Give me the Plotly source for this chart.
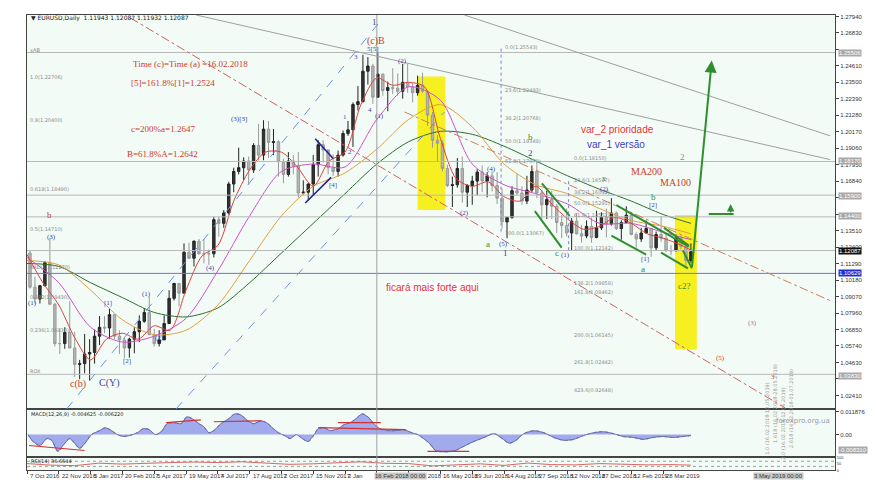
import plotly.graph_objects as go

# ---------------- DATA (weekly aggregation of the daily bars) -------------
wk_first_open = 1.1235
wk_high = [1.1250, 1.1215, 1.1040, 1.0985, 1.1145, 1.1300, 1.0865, 1.0690, 1.0700, 1.0875, 1.0670, 1.0480, 1.0655,
           1.0620, 1.0685, 1.0775, 1.0775, 1.0830, 1.0790, 1.0680, 1.0630, 1.0630, 1.0700, 1.0780, 1.0830, 1.0905,
           1.0690, 1.0680, 1.0780, 1.0950, 1.1000, 1.0990, 1.1265, 1.1270, 1.1285, 1.1295, 1.1295, 1.1225, 1.1445,
           1.1445, 1.1490, 1.1680, 1.1775, 1.1910, 1.1845, 1.1850, 1.1940, 1.2070, 1.2095, 1.2090, 1.2035, 1.1960,
           1.1835, 1.1880, 1.1860, 1.1880, 1.1690, 1.1670, 1.1860, 1.1960, 1.1960, 1.1880, 1.1865, 1.1890, 1.2025,
           1.2090, 1.2215, 1.2325, 1.2535, 1.2520, 1.2475, 1.2555, 1.2410, 1.2355, 1.2445, 1.2410, 1.2475, 1.2475,
           1.2345, 1.2395, 1.2415, 1.2290, 1.2150, 1.1995, 1.1960, 1.1795, 1.1715, 1.1840, 1.1850, 1.1665, 1.1720,
           1.1765, 1.1790, 1.1745, 1.1750, 1.1745, 1.1635, 1.1445, 1.1650, 1.1735, 1.1650, 1.1720, 1.1790, 1.1815,
           1.1625, 1.1620, 1.1620, 1.1530, 1.1455, 1.1500, 1.1435, 1.1470, 1.1390, 1.1420, 1.1440, 1.1485, 1.1475,
           1.1500, 1.1570, 1.1480, 1.1420, 1.1515, 1.1465, 1.1340, 1.1370, 1.1420, 1.1370, 1.1345, 1.1450, 1.1325,
           1.1255, 1.1325, 1.1325, 1.1265, 1.1265]
wk_low = [1.1105, 1.0960, 1.0860, 1.0860, 1.0975, 1.0850, 1.0570, 1.0520, 1.0555, 1.0560, 1.0365, 1.0350, 1.0390,
          1.0340, 1.0455, 1.0580, 1.0660, 1.0620, 1.0620, 1.0520, 1.0490, 1.0495, 1.0525, 1.0600, 1.0730, 1.0650,
          1.0570, 1.0570, 1.0640, 1.0820, 1.0880, 1.0840, 1.0930, 1.1160, 1.1110, 1.1190, 1.1130, 1.1120, 1.1170,
          1.1310, 1.1370, 1.1460, 1.1610, 1.1730, 1.1690, 1.1660, 1.1740, 1.1825, 1.1825, 1.1840, 1.1860, 1.1715,
          1.1670, 1.1715, 1.1730, 1.1575, 1.1595, 1.1555, 1.1590, 1.1715, 1.1810, 1.1730, 1.1720, 1.1715, 1.1850,
          1.1990, 1.1915, 1.2160, 1.2215, 1.2335, 1.2205, 1.2260, 1.2260, 1.2155, 1.2270, 1.2260, 1.2240, 1.2280,
          1.2215, 1.2260, 1.2280, 1.2055, 1.1910, 1.1820, 1.1750, 1.1645, 1.1510, 1.1640, 1.1540, 1.1510, 1.1525,
          1.1590, 1.1610, 1.1575, 1.1615, 1.1530, 1.1365, 1.1300, 1.1430, 1.1590, 1.1525, 1.1530, 1.1610, 1.1570,
          1.1430, 1.1430, 1.1430, 1.1335, 1.1300, 1.1310, 1.1215, 1.1325, 1.1270, 1.1300, 1.1270, 1.1300, 1.1355,
          1.1305, 1.1385, 1.1355, 1.1290, 1.1400, 1.1320, 1.1235, 1.1275, 1.1355, 1.1175, 1.1215, 1.1275, 1.1210,
          1.1185, 1.1215, 1.1225, 1.1110, 1.1135]
wk_close = [1.1200, 1.0970, 1.0890, 1.0980, 1.1135, 1.0855, 1.0590, 1.0590, 1.0665, 1.0560, 1.0450, 1.0455, 1.0520,
            1.0530, 1.0640, 1.0700, 1.0695, 1.0785, 1.0640, 1.0615, 1.0560, 1.0620, 1.0670, 1.0740, 1.0800, 1.0650,
            1.0590, 1.0615, 1.0725, 1.0895, 1.0995, 1.0930, 1.1205, 1.1165, 1.1280, 1.1195, 1.1195, 1.1195, 1.1425,
            1.1400, 1.1470, 1.1665, 1.1750, 1.1775, 1.1820, 1.1760, 1.1925, 1.1860, 1.2035, 1.1945, 1.1950, 1.1815,
            1.1730, 1.1820, 1.1785, 1.1605, 1.1610, 1.1665, 1.1795, 1.1930, 1.1895, 1.1775, 1.1750, 1.1860, 1.2005,
            1.2030, 1.2200, 1.2220, 1.2425, 1.2460, 1.2250, 1.2405, 1.2295, 1.2315, 1.2310, 1.2290, 1.2350, 1.2320,
            1.2280, 1.2330, 1.2290, 1.2130, 1.1960, 1.1940, 1.1770, 1.1655, 1.1660, 1.1770, 1.1610, 1.1655, 1.1685,
            1.1745, 1.1685, 1.1720, 1.1655, 1.1570, 1.1410, 1.1440, 1.1620, 1.1605, 1.1550, 1.1625, 1.1750, 1.1605,
            1.1525, 1.1560, 1.1515, 1.1405, 1.1385, 1.1335, 1.1415, 1.1330, 1.1315, 1.1380, 1.1305, 1.1370, 1.1440,
            1.1395, 1.1470, 1.1365, 1.1405, 1.1455, 1.1325, 1.1295, 1.1335, 1.1365, 1.1235, 1.1325, 1.1300, 1.1215,
            1.1215, 1.1300, 1.1245, 1.1150, 1.12087]

# moving averages (bar index, value)
ma_red_idx = [0, 16, 32, 48, 64, 80, 96, 112, 128, 144, 160, 176, 192, 208, 224, 240, 256, 272, 288, 304, 320, 336,
              352, 368, 384, 400, 416, 432, 448, 464, 480, 496, 512, 528, 544, 560, 576, 592, 608, 624, 640, 656, 668]
ma_red = [1.1190, 1.1000, 1.0850, 1.0630, 1.0480, 1.0620, 1.0660, 1.0620, 1.0710, 1.0680, 1.0950, 1.1180, 1.1250,
          1.1550, 1.1760, 1.1880, 1.1880, 1.1780, 1.1650, 1.1820, 1.1880, 1.2200, 1.2380, 1.2330, 1.2350, 1.2320,
          1.1970, 1.1700, 1.1650, 1.1680, 1.1580, 1.1550, 1.1650, 1.1530, 1.1430, 1.1360, 1.1380, 1.1440, 1.1400,
          1.1330, 1.1300, 1.1260, 1.1220]
ma_idx = [0, 32, 64, 96, 128, 160, 192, 224, 256, 288, 320, 352, 384, 416, 448, 480, 512, 544, 576, 608, 640, 668]
ma_magenta = [1.1170, 1.1000, 1.0700, 1.0600, 1.0640, 1.0760, 1.1080, 1.1450, 1.1750, 1.1800, 1.1780, 1.2100,
              1.2320, 1.2230, 1.1800, 1.1660, 1.1600, 1.1530, 1.1400, 1.1400, 1.1340, 1.1290]
ma_orange = [1.1150, 1.1120, 1.0950, 1.0750, 1.0650, 1.0680, 1.0850, 1.1150, 1.1450, 1.1650, 1.1740, 1.1900,
             1.2100, 1.2200, 1.2050, 1.1800, 1.1660, 1.1600, 1.1500, 1.1420, 1.1380, 1.1330]
ma_green = [1.1130, 1.1110, 1.1000, 1.0900, 1.0800, 1.0770, 1.0830, 1.1000, 1.1200, 1.1400, 1.1600, 1.1800,
            1.1950, 1.2020, 1.2000, 1.1920, 1.1820, 1.1720, 1.1630, 1.1550, 1.1460, 1.1400]

# MACD histogram (bar index, value)
macd_idx = [1, 6, 13, 20, 25, 31, 37, 43, 48, 53, 59, 65, 73, 79, 85, 91, 97, 103, 111, 117, 123, 129, 135, 141,
            148, 155, 161, 168, 173, 178, 183, 188, 195, 203, 209, 215, 221, 228, 235, 241, 248, 253, 259, 265, 271,
            277, 283, 289, 293, 299, 305, 313, 319, 325, 331, 337, 343, 349, 355, 363, 371, 379, 387, 393, 399, 405,
            411, 420, 430, 440, 450, 460, 470, 478, 485, 492, 500, 510, 520, 530, 540, 550, 560, 570, 580, 590, 600,
            610, 620, 630, 640, 650, 660, 668]
macd_val = [0.0000, -0.0036, -0.0057, -0.0021, -0.0031, -0.0088, -0.0052, -0.0021, -0.0046, -0.0072, -0.0041,
            0.0000, 0.0021, 0.0036, 0.0021, 0.0000, -0.0010, -0.0005, 0.0010, 0.0031, 0.0026, 0.0000, 0.0015,
            0.0057, 0.0062, 0.0057, 0.0093, 0.0077, 0.0057, 0.0041, 0.0010, 0.0021, 0.0057, 0.0083, 0.0108, 0.0103,
            0.0077, 0.0057, 0.0072, 0.0062, 0.0031, 0.0010, -0.0005, -0.0021, 0.0000, -0.0021, -0.0036, 0.0000,
            0.0031, 0.0036, 0.0021, 0.0031, 0.0052, 0.0062, 0.0083, 0.0108, 0.0093, 0.0057, 0.0031, 0.0021, 0.0021,
            0.0026, 0.0010, 0.0000, -0.0021, -0.0046, -0.0083, -0.0090, -0.0085, -0.0060, -0.0035, -0.0015, 0.0005,
            -0.0020, -0.0045, -0.0030, 0.0005, 0.0020, 0.0010, -0.0015, -0.0030, -0.0025, -0.0005, 0.0010, 0.0015,
            0.0005, -0.0010, -0.0015, -0.0025, -0.0015, -0.0010, -0.0015, -0.0010, -0.0005]

# RSI (bar index, value)
rsi_idx = [0, 24, 48, 72, 96, 120, 144, 168, 192, 216, 240, 264, 288, 312, 336, 360, 384, 408, 432, 456, 480, 504,
           528, 552, 576, 600, 624, 648, 668]
rsi_val = [52, 40, 36, 55, 48, 56, 60, 64, 60, 66, 58, 46, 50, 58, 66, 54, 52, 34, 44, 50, 38, 56, 44, 42, 52, 48,
           42, 44, 40]
rsi_levels = [70, 30]

date_ticks = ["7 Oct 2016", "22 Nov 2016", "5 Jan 2017", "20 Feb 2017", "5 Apr 2017", "19 May 2017", "4 Jul 2017",
              "17 Aug 2017", "2 Oct 2017", "15 Nov 2017", "2 Jan", "16 Feb 2018", "2 Apr 2018", "16 May 2018",
              "29 Jun 2018", "14 Aug 2018", "27 Sep 2018", "12 Nov 2018", "27 Dec 2018", "12 Feb 2019",
              "28 Mar 2019"]
date_tick_idx = [0, 32, 64, 96, 128, 160, 192, 224, 256, 288, 320, 352, 384, 416, 448, 480, 512, 544, 576, 608, 640]

price_ticks = [1.27940, 1.26830, 1.25720, 1.24610, 1.23500, 1.22390, 1.21280, 1.20170, 1.19060, 1.17950, 1.16840,
               1.15730, 1.14620, 1.13510, 1.12400, 1.11290, 1.10180, 1.09070, 1.07960, 1.06850, 1.05740, 1.04630,
               1.03520, 1.02410]
price_ticks_hidden = [1.25720, 1.15730, 1.14620, 1.03520]   # covered by marker boxes

# ---------------- FIGURE -------------
W, H = 876, 491
OFF = 8          # page body margin
XL, XR = 27, 835
def fx(px):
    return (px - OFF) / W
def fy(py):
    return 1 - (py - OFF) / H

wk_open = [wk_first_open] + wk_close[:-1]
wk_x = [-2 + 5 * i for i in range(len(wk_close))]

RED = "#d03a2a"
BLUE = "#3a44b0"
GREEN = "#2f8f2f"
GRAYT = "#8a8a8a"
TICKF = dict(size=6, color="#333", family="Liberation Sans")

fig = go.Figure()
fig.add_trace(go.Candlestick(
    x=wk_x, open=wk_open, high=wk_high, low=wk_low, close=wk_close,
    increasing=dict(line=dict(color="#222222", width=1), fillcolor="#333333"),
    decreasing=dict(line=dict(color="#9a9a9a", width=1), fillcolor="#b5b5b5"),
    whiskerwidth=0, xaxis="x", yaxis="y", showlegend=False, hoverinfo="skip"))

for xs, ys, col in [(ma_idx, ma_green, "#2d6e2d"), (ma_idx, ma_orange, "#e0a040"),
                    (ma_idx, ma_magenta, "#d050d0"), (ma_red_idx, ma_red, "#e04040")]:
    fig.add_trace(go.Scatter(x=xs, y=ys, mode="lines", line=dict(color=col, width=1, shape="spline", smoothing=0.8),
                             xaxis="x", yaxis="y", showlegend=False, hoverinfo="skip"))

fig.add_trace(go.Scatter(x=macd_idx, y=macd_val, mode="lines", fill="tozeroy",
                         fillcolor="rgba(80,90,225,0.5)", line=dict(color="rgba(60,60,200,0.7)", width=1,
                                                                   shape="spline", smoothing=0.6),
                         xaxis="x2", yaxis="y2", showlegend=False, hoverinfo="skip"))
fig.add_trace(go.Scatter(x=macd_idx, y=macd_val, mode="lines",
                         line=dict(color="#777777", width=1, dash="dot", shape="spline", smoothing=1.2),
                         xaxis="x2", yaxis="y2", showlegend=False, hoverinfo="skip"))
for lv in rsi_levels:
    fig.add_trace(go.Scatter(x=[0, 813], y=[lv, lv], mode="lines", line=dict(color="#888", width=0.8, dash="dot"),
                             xaxis="x3", yaxis="y3", showlegend=False, hoverinfo="skip"))
fig.add_trace(go.Scatter(x=rsi_idx, y=rsi_val, mode="lines", line=dict(color="#d04040", width=0.8),
                         xaxis="x3", yaxis="y3", showlegend=False, hoverinfo="skip"))

xdom = [fx(XL), fx(XR)]
axcommon = dict(showgrid=False, zeroline=False, showline=True, linecolor="#444444", linewidth=1, mirror=True)
fig.update_layout(
    width=W, height=H, margin=dict(l=0, r=0, t=0, b=0),
    paper_bgcolor="white", plot_bgcolor="#f3fbf6",
    xaxis=dict(domain=xdom, range=[0, 813], anchor="y", showticklabels=False, ticks="",
               rangeslider=dict(visible=False), **axcommon),
    xaxis2=dict(domain=xdom, range=[0, 813], anchor="y2", showticklabels=False, ticks="", **axcommon),
    xaxis3=dict(domain=xdom, range=[0, 813], anchor="y3", showticklabels=False, ticks="outside", ticklen=3,
                tickvals=date_tick_idx, tickcolor="#444", **axcommon),
    yaxis=dict(domain=[fy(410), fy(12)], range=[1.0150, 1.2804], anchor="x", side="right",
               tickvals=price_ticks,
               ticktext=["" if v in price_ticks_hidden else "%.5f" % v for v in price_ticks],
               ticks="outside", ticklen=3, tickfont=TICKF, **axcommon),
    yaxis2=dict(domain=[fy(459), fy(410)], range=[-0.0119, 0.0134], anchor="x2", side="right",
                tickvals=[0.011876, 0.0], ticktext=["0.011876", "0.00"], ticks="outside", ticklen=3,
                tickfont=TICKF, **axcommon),
    yaxis3=dict(domain=[fy(472), fy(459)], range=[0, 100], anchor="x3", side="right",
                tickvals=[100, 50, 0], ticktext=["100", "50", "0"], ticks="",
                tickfont=dict(size=4, color="#333", family="Liberation Sans"), **axcommon),
    font=dict(family="Liberation Serif"),
)

shapes = []
def seg(x0, y0, x1, y1, color, width=1, dash="solid", xref="x", yref="y"):
    shapes.append(dict(type="line", x0=x0, y0=y0, x1=x1, y1=y1, xref=xref, yref=yref,
                       line=dict(color=color, width=width, dash=dash)))

# yellow zones
shapes.append(dict(type="rect", x0=393, x1=421, y0=1.1490, y1=1.2390, xref="x", yref="y",
                   fillcolor="#f7f020", line=dict(width=0), layer="below"))
shapes.append(dict(type="rect", x0=652, x1=674, y0=1.0550, y1=1.1457, xref="x", yref="y",
                   fillcolor="#f7f020", line=dict(width=0), layer="below"))
# horizontal levels
for lv in [1.2551, 1.1817, 1.1590, 1.1444, 1.1217, 1.0383]:
    seg(0, lv, 813, lv, "#b8b8b8", 1)
seg(0, 1.1063, 813, 1.1063, "#6a74d8", 1)
# vertical time line
shapes.append(dict(type="line", x0=352, x1=352, y0=fy(472), y1=fy(12), xref="x", yref="paper",
                   line=dict(color="#a0a0a0", width=1)))
# channels / trendlines
seg(104, 1.2784, 763, 1.0156, "#d06060", 1, "dashdot")
seg(380, 1.2150, 808, 1.0880, "#d08060", 1, "dashdot")
seg(170, 1.2804, 808, 1.1830, "#a0a0a0", 1)
seg(440, 1.2804, 808, 1.1990, "#a0a0a0", 1)
seg(40, 1.0150, 358, 1.2784, "#7090e0", 1, "dash")
seg(150, 1.0150, 420, 1.2150, "#7090e0", 1, "dash")
# blue wedge at [4]
seg(290, 1.1970, 308, 1.1837, "#202090", 1.5)
seg(280, 1.1537, 306, 1.1710, "#202090", 1.5)
# green channels
seg(518, 1.1670, 546, 1.1450, GREEN, 2)
seg(511, 1.1483, 538, 1.1237, GREEN, 2)
seg(593, 1.1523, 666, 1.1243, GREEN, 2)
seg(588, 1.1317, 623, 1.1190, GREEN, 2)
seg(641, 1.1370, 666, 1.1250, GREEN, 2)
seg(638, 1.1203, 665, 1.1097, GREEN, 2)
seg(660, 1.1217, 669, 1.1097, GREEN, 2)
seg(686, 1.1463, 711, 1.1463, GREEN, 2)
# MACD divergence lines
seg(2, -0.0057, 58, -0.0083, "#d03030", 1.2, xref="x2", yref="y2")
seg(140, 0.0062, 175, 0.0077, "#d03030", 1.2, xref="x2", yref="y2")
seg(188, 0.0067, 236, 0.0072, "#d03030", 1.2, xref="x2", yref="y2")
seg(293, 0.0036, 381, 0.0026, "#d03030", 1.2, xref="x2", yref="y2")
seg(313, 0.0062, 356, 0.0062, "#d03030", 1.2, xref="x2", yref="y2")
seg(403, -0.0088, 445, -0.0088, "#d03030", 1.2, xref="x2", yref="y2")
# fib verticals
seg(477, 1.2577, 477, 1.1337, "#8080c0", 1, "dot")
seg(545, 1.1684, 545, 1.1217, "#8080c0", 1, "dot")
fig.update_layout(shapes=shapes)

ann = []
def txt(t, x, y, color, size=9, family="Liberation Serif", xanchor="center", bg=None, xref="x", yref="y",
        angle=0):
    d = dict(text=t, x=x, y=y, xref=xref, yref=yref, showarrow=False, xanchor=xanchor, yanchor="middle",
             font=dict(color=color, size=size, family=family), textangle=angle)
    if bg:
        d["bgcolor"] = bg
        d["borderpad"] = 0
    ann.append(d)

# green arrows
ann.append(dict(x=689, y=1.2497, ax=669, ay=1.1097, xref="x", yref="y", axref="x", ayref="y", text="",
                showarrow=True, arrowhead=2, arrowsize=1.2, arrowwidth=2, arrowcolor=GREEN))
ann.append(dict(x=708, y=1.1530, ax=708, ay=1.1463, xref="x", yref="y", axref="x", ayref="y", text="",
                showarrow=True, arrowhead=2, arrowsize=1, arrowwidth=1.5, arrowcolor=GREEN))

txt("Time (c)=Time (a) =16.02.2018", 105, 1.2471, RED, 9, xanchor="left")
txt("[5]=161.8%[1]=1.2524", 103, 1.2344, RED, 9, xanchor="left")
txt("c=200%a=1.2647", 103, 1.2037, RED, 9, xanchor="left")
txt("B=61.8%A=1.2642", 99, 1.1864, RED, 9, xanchor="left")
txt("(c)B", 351, 1.2631, RED, 10)
txt("b", 23, 1.1457, RED, 9)
txt("c(b)", 51, 1.0316, RED, 10)
txt("MA200", 623, 1.1750, RED, 10)
txt("MA100", 653, 1.1677, RED, 10)
txt("var_2 prioridade", 594, 1.2030, "#e03030", 10, "Liberation Sans", bg="white")
txt("var_1 versão", 593, 1.1930, "#3040c0", 10, "Liberation Sans", bg="white")
txt("ficará mais forte aqui", 408, 1.0970, "#e03030", 10, "Liberation Sans", bg="white")
txt("(5)", 698, 1.0496, RED, 7)
txt("3", 751, 1.0363, RED, 7)
txt("(3)", 730, 1.0730, GRAYT, 7)

for t, x, y, s in [("1", 350, 1.2757, 9), ("5[5]", 348, 1.2577, 7), ("3", 331, 1.2524, 7), ("(2)", 378, 1.2497, 7),
                   ("(3)[3]", 213, 1.2104, 7), ("1", 320, 1.2117, 7), ("(1)", 355, 1.2124, 7), ("4", 345, 1.2164, 7),
                   ("2", 325, 1.1884, 7), ("[4]", 308, 1.1657, 7), ("(2)", 440, 1.1470, 7), ("(4)", 467, 1.1764, 7),
                   ("(5)", 479, 1.1263, 7), ("1", 481, 1.1197, 9), ("2", 507, 1.1875, 9), ("(2)", 581, 1.1630, 7),
                   ("(1)", 542, 1.1190, 7), ("[2]", 630, 1.1523, 7), ("[1]", 622, 1.1157, 7), ("(3)", 25, 1.1310, 7),
                   ("C(Y)", 83, 1.0323, 10), ("(1)", 6, 1.0863, 7), ("[1]", 81, 1.0863, 7), ("(1)", 120, 1.0924, 7),
                   ("(2)", 133, 1.0630, 7), ("[2]", 101, 1.0470, 7), ("(4)", 185, 1.1097, 7)]:
    txt(t, x, y, BLUE, s)
for t, x, y, s in [("a", 464, 1.1263, 9), ("b", 507, 1.1985, 9), ("x", 581, 1.1700, 8), ("c", 533, 1.1197, 9),
                   ("b", 630, 1.1577, 9), ("a", 620, 1.1090, 9), ("c2?", 662, 1.0977, 9)]:
    txt(t, x, y, GREEN, s)
txt("2", 660, 1.1844, GRAYT, 9)

# fib labels
for t, y in [("0.0(1.25543)", 1.2591), ("23.6(1.22493)", 1.2297), ("38.2(1.20768)", 1.2110),
             ("50.0(1.19349)", 1.1957), ("61.8(1.17979)", 1.1817), ("100.0(1.13067)", 1.1337)]:
    txt(t, 479, y, GRAYT, 5, "DejaVu Sans", xanchor="left")
for t, y in [("0.0(1.18150)", 1.1837), ("23.6(1.16597)", 1.1690), ("38.2(1.16092)", 1.1610),
             ("50.0(1.15291)", 1.1537), ("61.8(1.14552)", 1.1457), ("100.0(1.12142)", 1.1237),
             ("138.2(1.09858)", 1.0997), ("161.8(1.08462)", 1.0937), ("200.0(1.06145)", 1.0650),
             ("261.8(1.02442)", 1.0463), ("423.6(0.92648)", 1.0277)]:
    txt(t, 548, y, GRAYT, 5, "DejaVu Sans", xanchor="left")

# left-side level labels
for t, y in [("xAB", 1.2571), ("1.0(1.22706)", 1.2384), ("0.9(1.20400)", 1.2097), ("0.618(1.18490)", 1.1630),
             ("0.5(1.14710)", 1.1363), ("RADIX(1.11270)", 1.1104), ("0.382(1.09430)", 1.0903),
             ("0.236(1.06830)", 1.0683), ("ROX", 1.0403)]:
    txt(t, fx(XL) + 0.001, y, GRAYT, 5, "DejaVu Sans", xanchor="left", xref="paper")

# rotated time-zone labels (right side)
for t, px, py in [("1.0 (16.02.2018-10.05.2019)", 767, 420), ("1.618 (16.02.2018-28.05.2019)", 775, 405),
                  ("2.0 (16.02.2018-12.06.2019)", 783, 425), ("2.618 (16.02.2018-01.07.2019)", 791, 410)]:
    txt(t, fx(px), fy(py), "#9a9a9a", 5, "DejaVu Sans", xref="paper", yref="paper", angle=-90)

# header and indicator titles
txt("▼ EURUSD,Daily  1.11943 1.12087 1.11932 1.12087", fx(XL) + 0.002, fy(15), "#222", 6, "DejaVu Sans",
    xanchor="left", xref="paper", yref="paper")
txt("MACD(12,26,9) -0.004625 -0.006220", fx(XL) + 0.002, fy(415), "#222", 5, "DejaVu Sans",
    xanchor="left", xref="paper", yref="paper")
txt("RSI(14) 36.6644", fx(XL) + 0.002, fy(463), "#222", 5, "DejaVu Sans", xanchor="left", xref="paper",
    yref="paper")
txt("forexpro.org.ua", fx(832), fy(422), "#9a9aaa", 7, "DejaVu Sans", xanchor="right", xref="paper", yref="paper")

# x date labels
for t, i in zip(date_ticks, date_tick_idx):
    if t == "16 Feb 2018":
        continue
    txt(t, i + 1, fy(478), "#333", 6, "Liberation Sans", xanchor="left", xref="x3", yref="paper")
txt("16 Feb 2018 00:00", 349, fy(478), "#333", 6, "Liberation Sans", bg="#c8c8c8", xanchor="left",
    xref="x3", yref="paper")
txt("3 May 2019 00:00", fx(753), fy(478), "#333", 6, "Liberation Sans", bg="#c8c8c8", xanchor="left",
    xref="paper", yref="paper")

# right axis marker boxes
for t, py, bg, fc in [("1.25506", 50, "#a8a8a8", "white"), ("1.18170", 160, "#a8a8a8", "white"),
                      ("1.15900", 195, "#a8a8a8", "white"), ("1.14400", 215, "#a8a8a8", "white"),
                      ("1.12087", 250, "#111111", "white"), ("1.10629", 273, "#2030d0", "white"),
                      ("1.03830", 377, "#a8a8a8", "white"), ("-0.008310", 452, "#a8a8a8", "white")]:
    txt(t, fx(XR) + 0.003, fy(py), fc, 6, "Liberation Sans", xanchor="left", bg=bg, xref="paper", yref="paper")

fig.update_layout(annotations=ann)
fig.write_html("out.html")
